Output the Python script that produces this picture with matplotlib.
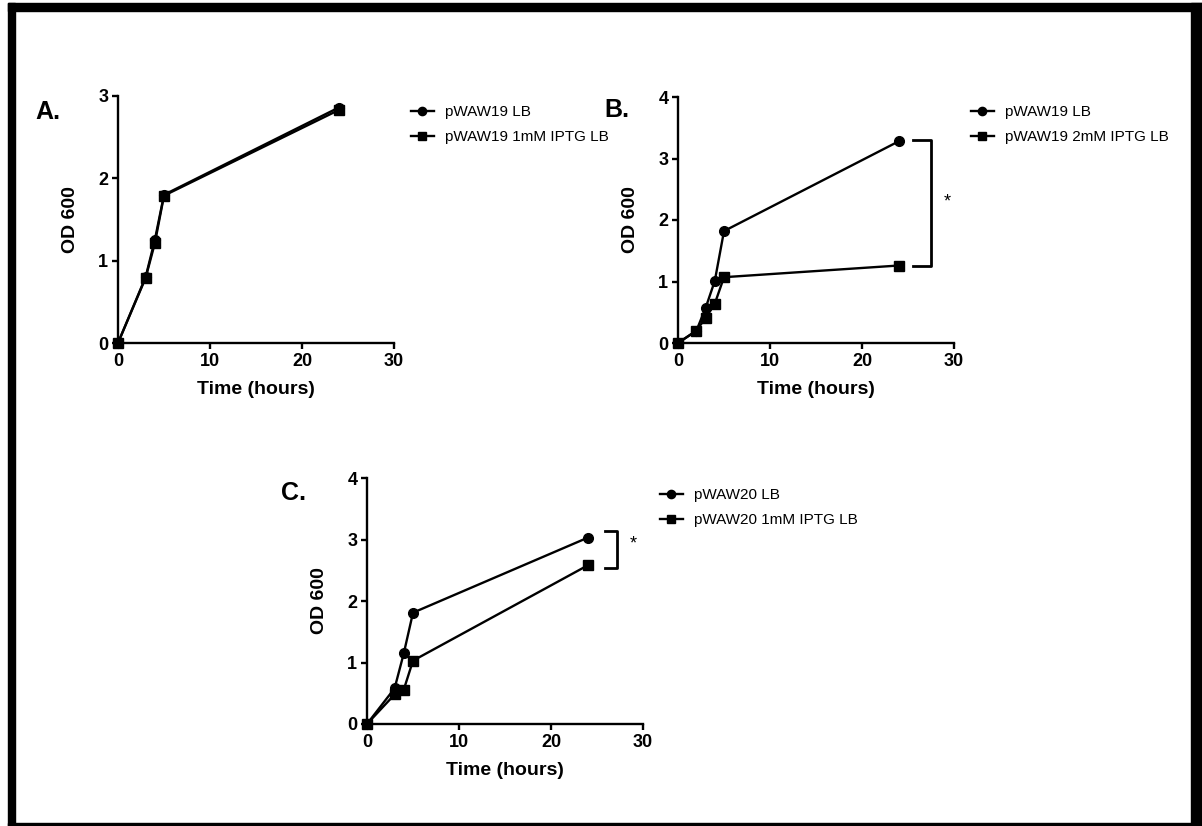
import matplotlib
matplotlib.use("Agg")
import matplotlib.pyplot as plt
from matplotlib.patches import Rectangle

plt.rcParams['font.family'] = ['Liberation Sans', 'DejaVu Sans']

# data
a_time = [0, 3, 4, 5, 24]
a_lb = [0, 0.80, 1.25, 1.80, 2.86]
a_iptg = [0, 0.79, 1.21, 1.79, 2.83]

b_time = [0, 2, 3, 4, 5, 24]
b_lb = [0, 0.20, 0.57, 1.01, 1.82, 3.28]
b_iptg = [0, 0.20, 0.41, 0.64, 1.07, 1.26]

c_time = [0, 3, 4, 5, 24]
c_lb = [0, 0.58, 1.15, 1.81, 3.03]
c_iptg = [0, 0.48, 0.56, 1.03, 2.58]

panels = [
    ("A.", a_time, a_lb, a_iptg, ["pWAW19 LB", "pWAW19 1mM IPTG LB"], 3),
    ("B.", b_time, b_lb, b_iptg, ["pWAW19 LB", "pWAW19 2mM IPTG LB"], 4),
    ("C.", c_time, c_lb, c_iptg, ["pWAW20 LB", "pWAW20 1mM IPTG LB"], 4),
]

W, H = 1202, 826
fig = plt.figure(figsize=(W / 100, H / 100), dpi=100)


def fx(px):
    return px / W


def fy(py):
    return 1 - py / H


# axes boxes in pixels: left, top, right, bottom
boxes = [(118, 96, 394, 343), (678, 97, 954, 343), (367, 478, 643, 724)]
legend_pos = [(411, 105), (971, 105), (660, 488)]
letter_pos = [(48, 112), (617, 110), (293, 493)]
brackets = {1: (25.5, 27.5, 3.30, 1.26, 29.3, 2.30), 2: (25.9, 27.2, 3.14, 2.54, 28.9, 2.92)}

for i, (letter, t, lb, iptg, labels, ymax) in enumerate(panels):
    l, tp, r, b = boxes[i]
    ax = fig.add_axes([fx(l), fy(b), fx(r - l), (b - tp) / H])
    h1, = ax.plot(t, lb, color='black', lw=1.7, marker='o', ms=7, clip_on=False, zorder=3)
    h2, = ax.plot(t, iptg, color='black', lw=1.7, marker='s', ms=7, clip_on=False, zorder=3)
    ax.set_xlim(0, 30)
    ax.set_ylim(0, ymax)
    ax.set_xticks([0, 10, 20, 30])
    ax.set_yticks(range(ymax + 1))
    for s in ['top', 'right']:
        ax.spines[s].set_visible(False)
    for s in ['left', 'bottom']:
        ax.spines[s].set_linewidth(1.7)
    ax.tick_params(direction='out', length=4, width=1.7, labelsize=13, pad=3)
    for lab in ax.get_xticklabels() + ax.get_yticklabels():
        lab.set_fontweight('bold')
    ax.set_xlabel("Time (hours)", fontsize=14, fontweight='bold', labelpad=8)
    ax.set_ylabel("OD 600", fontsize=14, fontweight='bold', labelpad=14)

    lx, ly = legend_pos[i]
    ax.legend([h1, h2], labels, loc='upper left', bbox_to_anchor=(fx(lx), fy(ly)),
              bbox_transform=fig.transFigure, frameon=False, fontsize=11,
              handlelength=1.5, handletextpad=0.7, labelspacing=0.75,
              borderpad=0, borderaxespad=0, markerscale=0.85)

    px, py = letter_pos[i]
    fig.text(fx(px), fy(py), letter, fontsize=18, fontweight='bold',
             ha='center', va='center')

    if i in brackets:
        x0, x1, ytop, ybot, sx, sy = brackets[i]
        ax.plot([x0, x1, x1, x0], [ytop, ytop, ybot, ybot], color='black', lw=2, clip_on=False)
        ax.text(sx, sy, "*", fontsize=13, ha='center', va='center')

# picture frame
fig.add_artist(Rectangle((fx(8), fy(826)), fx(7), 823 / H, transform=fig.transFigure, color='black'))
fig.add_artist(Rectangle((fx(8), fy(11)), fx(1194), 8 / H, transform=fig.transFigure, color='black'))
fig.add_artist(Rectangle((fx(1191), fy(826)), fx(11), 823 / H, transform=fig.transFigure, color='black'))
fig.add_artist(Rectangle((fx(8), fy(826)), fx(1194), 3 / H, transform=fig.transFigure, color='black'))

fig.savefig("out.png", dpi=100)
